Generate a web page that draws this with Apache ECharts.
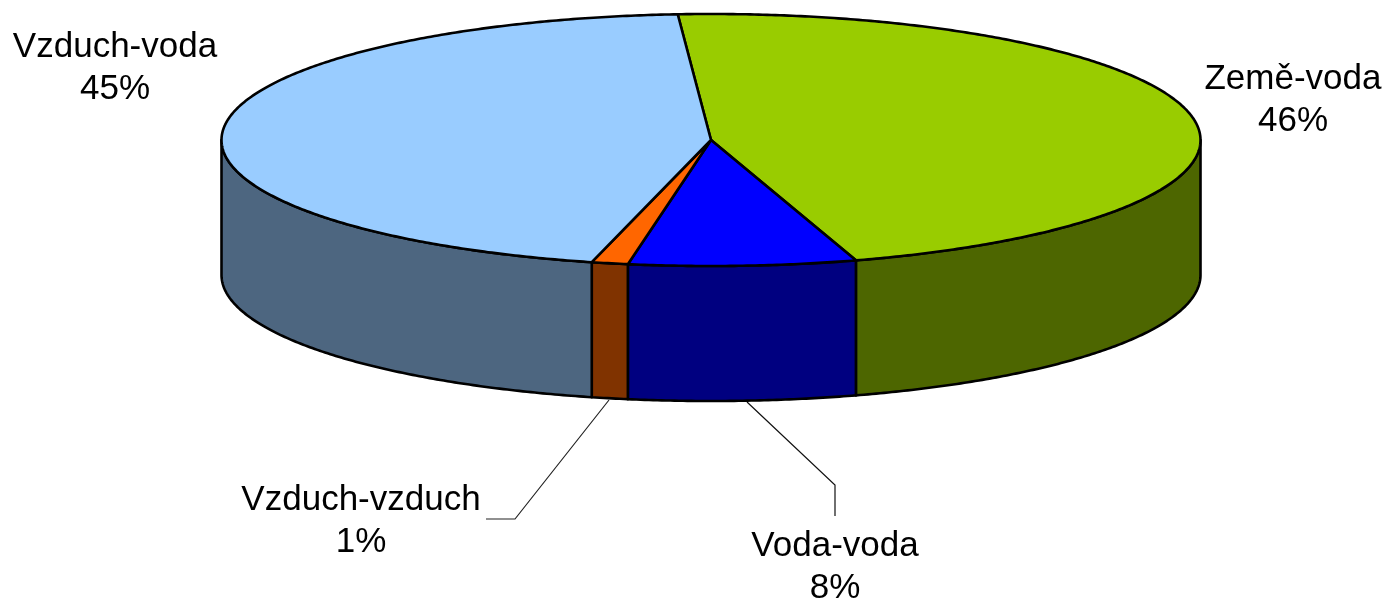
<!DOCTYPE html>
<html><head><meta charset="utf-8">
<style>html,body{margin:0;padding:0;background:#fff}#c{width:1388px;height:601px}</style>
<script src="https://cdn.jsdelivr.net/npm/echarts@6/dist/echarts.min.js"></script>
</head><body><div id="c"></div>
<script>
// Data
const categories = ['Země-voda', 'Voda-voda', 'Vzduch-vzduch', 'Vzduch-voda'];
const shares = [46.3, 7.5, 1.2, 45.0];
const percentLabels = ['46%', '8%', '1%', '45%'];
// Styles
const topColors = ['#99CC00', '#0000FF', '#FF6600', '#99CCFF'];
const sideColors = ['#4D6600', '#000080', '#803300', '#4D6680'];
const labelCenters = [[1293, 100], [835, 567], [361, 521], [115, 68]];
const leaderLines = [null, [[747, 402], [835, 485], [835, 516]], [[609, 400], [515, 519], [486, 519]], null];
const leaderColors = [null, '#111', '#222', null];
// Geometry of the tilted disc
const CX = 711, CY = 140, RX = 489.5, RY = 126, DEPTH = 135, START = -3.9, FONT = 35;

const total = shares.reduce((a, b) => a + b, 0);
const pt = (deg, dy) => {
  const t = deg * Math.PI / 180;
  return [CX + RX * Math.sin(t), CY - RY * Math.cos(t) + (dy || 0)];
};
const arc = (a, b, dy) => {
  const n = Math.max(2, Math.ceil(Math.abs(b - a) * 2)), out = [];
  for (let i = 0; i <= n; i++) out.push(pt(a + (b - a) * i / n, dy));
  return out;
};
const edge = {stroke: '#000', lineWidth: 2.6, lineJoin: 'round'};

function renderItem(params, api) {
  const i = params.dataIndex;
  let before = 0;
  for (let k = 0; k < i; k++) before += shares[k];
  const a = START + before / total * 360;
  const b = a + api.value(0) / total * 360;
  const children = [];
  // side wall: only the part facing the viewer (90..270 degrees)
  const f0 = Math.max(a, 90), f1 = Math.min(b, 270);
  if (f1 > f0) {
    children.push({type: 'polygon', z2: 1,
      shape: {points: arc(f0, f1, 0).concat(arc(f1, f0, DEPTH))},
      style: Object.assign({fill: sideColors[i]}, edge)});
  }
  children.push({type: 'polygon', z2: 2,
    shape: {points: [[CX, CY]].concat(arc(a, b, 0))},
    style: Object.assign({fill: topColors[i]}, edge)});
  if (leaderLines[i]) {
    children.push({type: 'polyline', z2: 0, shape: {points: leaderLines[i]},
      style: {stroke: leaderColors[i], lineWidth: 1.2, fill: null}});
  }
  children.push({type: 'text', z2: 3, x: labelCenters[i][0], y: labelCenters[i][1],
    style: {text: categories[i] + '\n' + percentLabels[i], fill: '#000',
      font: FONT + 'px "Liberation Sans", Arial, sans-serif', lineHeight: 42,
      align: 'center', verticalAlign: 'middle'}});
  return {type: 'group', children};
}

const chart = echarts.init(document.getElementById('c'), null, {renderer: 'canvas'});
chart.setOption({
  animation: false,
  backgroundColor: '#fff',
  series: [{type: 'custom', coordinateSystem: 'none', renderItem,
    data: shares.map((v, i) => ({name: categories[i], value: [v]}))}]
});
</script></body></html>
